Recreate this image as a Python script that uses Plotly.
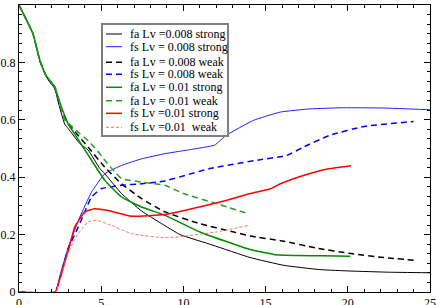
import plotly.graph_objects as go

# ---------------- data ----------------
fa008s_x = [0, 0.85, 1.26, 1.67, 2.18, 2.44, 2.78, 3.0, 3.7, 4.2, 4.92, 5.22, 6.24, 7.46, 8.68, 9.8, 11.8, 14.06, 16.1, 18.3, 20.2, 22.5, 25]
fa008s_y = [1, 0.90, 0.807, 0.749, 0.708, 0.65, 0.585, 0.569, 0.517, 0.495, 0.43, 0.412, 0.343, 0.282, 0.238, 0.2, 0.163, 0.12, 0.093, 0.078, 0.073, 0.069, 0.067]

fs008s_x = [0, 2.2, 2.5, 3.0, 3.7, 4.41, 5.22, 6.24, 7.46, 8.88, 10.5, 11.9, 12.6, 14.26, 15.9, 17.7, 19.75, 22.2, 25]
fs008s_y = [0, 0, 0.06, 0.157, 0.261, 0.348, 0.412, 0.441, 0.464, 0.482, 0.497, 0.512, 0.546, 0.598, 0.627, 0.638, 0.642, 0.641, 0.635]

fa008w_x = [0, 0.85, 1.26, 1.67, 2.18, 2.44, 2.99, 3.5, 4.2, 5.22, 6.24, 7.46, 8.88, 11, 13, 14.06, 16.1, 18.1, 20.2, 22.2, 24.2]
fa008w_y = [1, 0.90, 0.807, 0.75, 0.71, 0.66, 0.585, 0.552, 0.505, 0.435, 0.377, 0.325, 0.279, 0.238, 0.21, 0.195, 0.177, 0.153, 0.134, 0.12, 0.11]

fs008w_x = [0, 2.2, 2.5, 3.0, 3.6, 4.0, 4.41, 5.02, 6.24, 7.46, 8.88, 11.6, 14.67, 16.3, 17.3, 18.9, 21.0, 24.0]
fs008w_y = [0, 0, 0.05, 0.151, 0.226, 0.279, 0.331, 0.36, 0.372, 0.377, 0.387, 0.43, 0.461, 0.476, 0.505, 0.546, 0.577, 0.594]

fa01s_x = [0, 0.85, 1.26, 1.67, 2.18, 2.44, 2.99, 3.6, 4.41, 5.22, 6.24, 7.46, 8.88, 11.0, 13.0, 14.06, 15.5, 17, 18.5, 20.15]
fa01s_y = [1, 0.90, 0.81, 0.752, 0.715, 0.667, 0.586, 0.532, 0.459, 0.389, 0.331, 0.296, 0.267, 0.209, 0.168, 0.148, 0.131, 0.127, 0.126, 0.125]

fa01w_x = [0, 0.85, 1.26, 1.67, 2.18, 2.44, 2.78, 3.2, 3.7, 4.2, 4.92, 5.22, 5.8, 6.24, 7.46, 8.88, 10, 12, 13.95]
fa01w_y = [1, 0.90, 0.81, 0.752, 0.715, 0.667, 0.60, 0.578, 0.552, 0.528, 0.482, 0.459, 0.42, 0.395, 0.383, 0.372, 0.343, 0.308, 0.273]

fs01s_x = [0, 2.2, 2.5, 3.0, 3.39, 4.0, 4.6, 5.42, 6.85, 8.88, 10.5, 12.6, 14.06, 15.3, 15.9, 17.3, 18.7, 20.2]
fs01s_y = [0, 0, 0.05, 0.145, 0.226, 0.279, 0.29, 0.284, 0.264, 0.27, 0.29, 0.319, 0.343, 0.36, 0.377, 0.406, 0.428, 0.44]

fs01w_x = [0, 2.2, 2.5, 3.0, 3.6, 4.2, 4.72, 5.63, 6.85, 8.88, 10, 12, 13.95]
fs01w_y = [0, 0, 0.04, 0.139, 0.203, 0.244, 0.25, 0.232, 0.203, 0.189, 0.194, 0.209, 0.232]

names = [
    "fa Lv =0.008 strong",
    "fs Lv = 0.008 strong",
    "fa Lv = 0.008 weak",
    "fs Lv = 0.008 weak",
    "fa Lv = 0.01 strong",
    "fa Lv = 0.01 weak",
    "fs Lv =0.01 strong",
    "fs Lv =0.01\u00a0 weak",
]

xs = [fa008s_x, fs008s_x, fa008w_x, fs008w_x, fa01s_x, fa01w_x, fs01s_x, fs01w_x]
ys = [fa008s_y, fs008s_y, fa008w_y, fs008w_y, fa01s_y, fa01w_y, fs01s_y, fs01w_y]

# ---------------- styles ----------------
colors = ["black", "#2020ff", "black", "#0000ff", "#008c00", "#2a9a2a", "#ff0000", "#ff6e6e"]
widths = [1, 1, 1.5, 1.5, 1.5, 1.5, 1.5, 1]
dashes = ["solid", "solid", "6px,4px", "6px,4px", "solid", "6px,4px", "solid", "3px,2px"]

FONT = "Liberation Serif, serif"
W, H = 436, 305
ML, MR, MT, MB = 19, 6, 5, 13

fig = go.Figure()
for x, y, c, w, d, n in zip(xs, ys, colors, widths, dashes, names):
    fig.add_trace(go.Scatter(x=x, y=y, mode="lines", name=n,
                             line=dict(color=c, width=w, dash=d, shape="spline", smoothing=0.4),
                             showlegend=False, hoverinfo="skip"))

# ---------------- hand-made legend (xmgrace style) ----------------
pw, ph = W - ML - MR, H - MT - MB
def px(xp):
    return (xp - ML) / pw
def py(yp):
    return (H - MB - yp) / ph

shapes = [dict(type="rect", xref="paper", yref="paper",
               x0=px(102), x1=px(228), y0=py(24), y1=py(136),
               line=dict(color="#7f7f7f", width=2), fillcolor="white", layer="above")]
annotations = []
row_y = [34, 46.7, 62.3, 74.3, 87.3, 100.7, 113.3, 127.3]
for ry, c, w, d, n in zip(row_y, colors, widths, dashes, names):
    shapes.append(dict(type="line", xref="paper", yref="paper",
                       x0=px(106), x1=px(122), y0=py(ry), y1=py(ry),
                       line=dict(color=c, width=w, dash=d), layer="above"))
    annotations.append(dict(xref="paper", yref="paper", x=px(129), y=py(ry),
                            text=n, showarrow=False, xanchor="left", yanchor="middle",
                            borderpad=0,
                            font=dict(family=FONT, size=12, color="black")))

axis_common = dict(showline=True, linecolor="black", linewidth=1, mirror="ticks",
                   ticks="inside", ticklen=6, tickcolor="black", tickwidth=1,
                   showgrid=False, zeroline=False, automargin=False,
                   tickfont=dict(family=FONT, size=12, color="black"))

fig.update_layout(
    width=W, height=H,
    margin=dict(l=ML, r=MR, t=MT, b=MB, pad=0, autoexpand=False),
    paper_bgcolor="white", plot_bgcolor="white",
    font=dict(family=FONT, size=12, color="black"),
    xaxis=dict(range=[0, 25], dtick=5, tick0=0,
               minor=dict(dtick=1, ticklen=3, tickcolor="black", ticks="inside", showgrid=False),
               **axis_common),
    yaxis=dict(range=[0, 1], dtick=0.2, tick0=0,
               minor=dict(dtick=0.2 / 6, ticklen=3, tickcolor="black", ticks="inside", showgrid=False),
               **axis_common),
    shapes=shapes,
    annotations=annotations,
    showlegend=False,
)

fig.write_html("out.html",
               config={"displayModeBar": False},
               post_script="document.body.style.margin='0';document.body.style.overflow='hidden';")
